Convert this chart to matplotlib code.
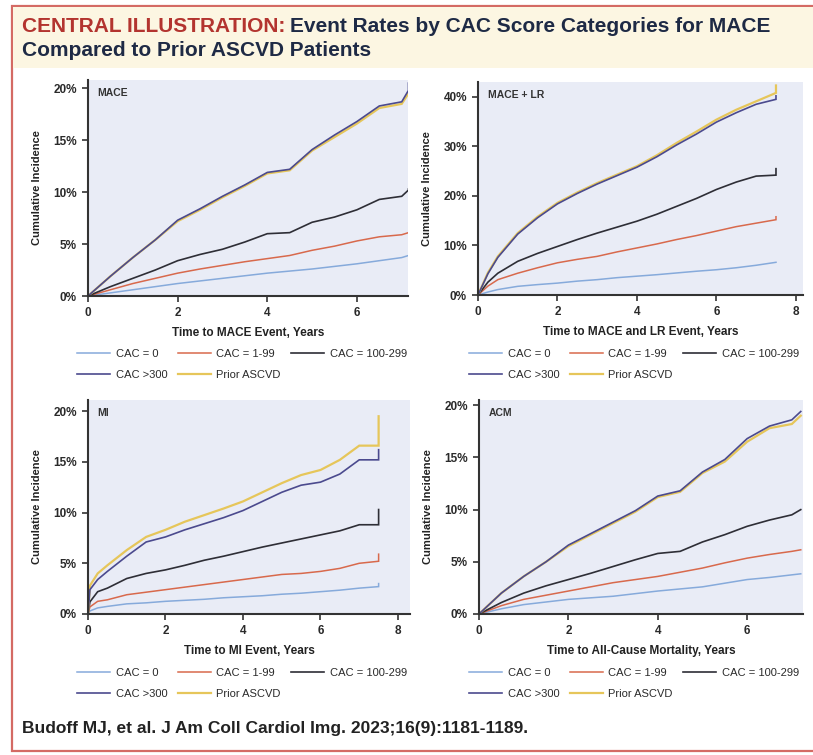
import numpy as np
import matplotlib
matplotlib.use("Agg")
import matplotlib.pyplot as plt
from matplotlib.patches import Rectangle
from matplotlib.ticker import FuncFormatter

plt.rcParams['font.family'] = ['Liberation Sans', 'DejaVu Sans']

# ---------------- data (cumulative incidence, %) ----------------
series_names = ["CAC = 0", "CAC = 1-99", "CAC = 100-299", "CAC >300", "Prior ASCVD"]
series_colors = ["#86aadb", "#d8694c", "#2e2e36", "#4b4a8e", "#e6c65a"]

# MACE
mace_t = [0, 0.5, 1, 1.5, 2, 2.5, 3, 3.5, 4, 4.5, 5, 5.5, 6, 6.5, 7, 7.15, 7.15]
mace_cac0 = [0, 0.3, 0.6, 0.9, 1.2, 1.45, 1.7, 1.95, 2.2, 2.4, 2.6, 2.85, 3.1, 3.4, 3.7, 3.9, 3.9]
mace_cac1_99 = [0, 0.6, 1.2, 1.7, 2.2, 2.6, 2.95, 3.3, 3.6, 3.9, 4.4, 4.8, 5.3, 5.7, 5.9, 6.1, 6.1]
mace_cac100_299 = [0, 0.9, 1.7, 2.5, 3.4, 4.0, 4.5, 5.2, 6.0, 6.1, 7.1, 7.6, 8.3, 9.3, 9.6, 10.2, 10.3]
mace_cac300 = [0, 1.9, 3.7, 5.4, 7.3, 8.4, 9.6, 10.7, 11.9, 12.2, 14.1, 15.5, 16.8, 18.3, 18.7, 19.8, 20.5]
mace_prior = [0, 1.9, 3.7, 5.4, 7.2, 8.3, 9.5, 10.6, 11.8, 12.1, 14.0, 15.3, 16.6, 18.1, 18.5, 19.5, 19.5]

# MACE + LR
lr_t = [0, 0.25, 0.5, 1, 1.5, 2, 2.5, 3, 3.5, 4, 4.5, 5, 5.5, 6, 6.5, 7, 7.5, 7.5]
lr_cac0 = [0, 0.6, 1.1, 1.75, 2.1, 2.4, 2.8, 3.1, 3.5, 3.8, 4.1, 4.45, 4.8, 5.1, 5.5, 6.0, 6.6, 6.6]
lr_cac1_99 = [0, 1.8, 3.1, 4.4, 5.5, 6.5, 7.2, 7.8, 8.7, 9.5, 10.3, 11.2, 12.0, 12.9, 13.8, 14.5, 15.2, 15.8]
lr_cac100_299 = [0, 2.6, 4.4, 6.8, 8.4, 9.8, 11.2, 12.5, 13.7, 14.9, 16.3, 17.9, 19.5, 21.3, 22.8, 24.0, 24.2, 25.5]
lr_cac300 = [0, 4.3, 7.6, 12.3, 15.6, 18.4, 20.5, 22.4, 24.1, 25.8, 27.9, 30.3, 32.5, 34.9, 36.8, 38.5, 39.5, 40.2]
lr_prior = [0, 4.5, 7.8, 12.5, 15.8, 18.6, 20.7, 22.6, 24.3, 26.0, 28.2, 30.7, 33.0, 35.4, 37.4, 39.1, 40.8, 42.3]

# MI
mi_t = [0, 0.05, 0.25, 0.5, 1, 1.5, 2, 2.5, 3, 3.5, 4, 4.5, 5, 5.5, 6, 6.5, 7, 7.5, 7.5]
mi_cac0 = [0, 0.3, 0.6, 0.75, 1.0, 1.1, 1.25, 1.35, 1.45, 1.6, 1.7, 1.8, 1.95, 2.05, 2.2, 2.35, 2.55, 2.7, 3.0]
mi_cac1_99 = [0, 0.7, 1.25, 1.4, 1.9, 2.15, 2.4, 2.65, 2.9, 3.15, 3.4, 3.65, 3.9, 4.0, 4.2, 4.5, 5.0, 5.2, 5.9]
mi_cac100_299 = [0, 1.2, 2.2, 2.55, 3.5, 4.0, 4.35, 4.8, 5.3, 5.7, 6.15, 6.6, 7.0, 7.4, 7.8, 8.2, 8.8, 8.8, 10.3]
mi_cac300 = [0, 2.4, 3.4, 4.2, 5.7, 7.1, 7.6, 8.3, 8.9, 9.5, 10.2, 11.1, 12.0, 12.7, 13.0, 13.8, 15.2, 15.2, 16.2]
mi_prior = [0, 2.8, 4.0, 4.8, 6.3, 7.6, 8.3, 9.1, 9.75, 10.4, 11.1, 12.0, 12.9, 13.7, 14.2, 15.2, 16.6, 16.6, 19.5]

# ACM
acm_t = [0, 0.5, 1, 1.5, 2, 2.5, 3, 3.5, 4, 4.5, 5, 5.5, 6, 6.5, 7, 7.2]
acm_cac0 = [0, 0.5, 0.9, 1.15, 1.4, 1.55, 1.7, 1.95, 2.2, 2.4, 2.6, 2.95, 3.3, 3.5, 3.75, 3.85]
acm_cac1_99 = [0, 0.8, 1.4, 1.8, 2.2, 2.6, 3.0, 3.3, 3.6, 4.0, 4.4, 4.9, 5.35, 5.7, 6.0, 6.15]
acm_cac100_299 = [0, 1.1, 2.0, 2.7, 3.3, 3.9, 4.55, 5.2, 5.8, 6.0, 6.9, 7.6, 8.4, 9.0, 9.5, 10.0]
acm_cac300 = [0, 2.0, 3.6, 5.0, 6.6, 7.7, 8.8, 9.9, 11.3, 11.8, 13.6, 14.8, 16.8, 18.0, 18.6, 19.4]
acm_prior = [0, 2.0, 3.6, 5.0, 6.5, 7.6, 8.7, 9.8, 11.2, 11.7, 13.5, 14.6, 16.5, 17.8, 18.2, 19.0]

panels = [
    dict(label="MACE", xlabel="Time to MACE Event, Years", t=mace_t,
         ys=[mace_cac0, mace_cac1_99, mace_cac100_299, mace_cac300, mace_prior],
         xticks=[0, 2, 4, 6], yticks=[0, 5, 10, 15, 20],
         xlim=7.14, ylim=20.8, box=(88, 80, 408, 296), leg=(77, 349)),
    dict(label="MACE + LR", xlabel="Time to MACE and LR Event, Years", t=lr_t,
         ys=[lr_cac0, lr_cac1_99, lr_cac100_299, lr_cac300, lr_prior],
         xticks=[0, 2, 4, 6, 8], yticks=[0, 10, 20, 30, 40],
         xlim=8.18, ylim=43.0, box=(478, 82, 803, 295), leg=(469, 349)),
    dict(label="MI", xlabel="Time to MI Event, Years", t=mi_t,
         ys=[mi_cac0, mi_cac1_99, mi_cac100_299, mi_cac300, mi_prior],
         xticks=[0, 2, 4, 6, 8], yticks=[0, 5, 10, 15, 20],
         xlim=8.31, ylim=21.1, box=(88, 400, 410, 614), leg=(77, 668)),
    dict(label="ACM", xlabel="Time to All-Cause Mortality, Years", t=acm_t,
         ys=[acm_cac0, acm_cac1_99, acm_cac100_299, acm_cac300, acm_prior],
         xticks=[0, 2, 4, 6], yticks=[0, 5, 10, 15, 20],
         xlim=7.25, ylim=20.5, box=(479, 400, 803, 614), leg=(469, 668)),
]

W, H = 813, 755
fig = plt.figure(figsize=(W / 100, H / 100), dpi=100)

# frame + header
fig.patches.append(Rectangle((12 / W, 1 - 751 / H), 1.2, (751 - 6) / H, transform=fig.transFigure,
                             facecolor="white", edgecolor="#d46a64", lw=1.6, zorder=-2))
fig.patches.append(Rectangle((13 / W, 1 - 68 / H), 1.2, 61 / H, transform=fig.transFigure,
                             facecolor="#fcf6e2", edgecolor="none", zorder=-1))

t1 = fig.text(22 / W, 1 - 27 / H, "CENTRAL ILLUSTRATION:", color="#b3342f",
              fontsize=15, fontweight="bold", va="center", ha="left")
fig.canvas.draw()
r = fig.canvas.get_renderer()
bb = t1.get_window_extent(r)
fig.text((bb.x1 + 5) / W, 1 - 27 / H, "Event Rates by CAC Score Categories for MACE",
         color="#1e2a45", fontsize=15, fontweight="bold", va="center", ha="left")
fig.text(22 / W, 1 - 50 / H, "Compared to Prior ASCVD Patients",
         color="#1e2a45", fontsize=15, fontweight="bold", va="center", ha="left")

fig.text(22 / W, 1 - 728 / H, "Budoff MJ, et al. J Am Coll Cardiol Img. 2023;16(9):1181-1189.",
         color="#222222", fontsize=12.5, fontweight="bold", va="center", ha="left")

pct = FuncFormatter(lambda v, p: f"{v:.0f}%")
draw_order = [0, 1, 2, 4, 3]
widths = [1.1, 1.1, 1.2, 1.2, 1.6]

for p in panels:
    x0, y0, x1, y1 = p["box"]
    ax = fig.add_axes([x0 / W, 1 - y1 / H, (x1 - x0) / W, (y1 - y0) / H])
    ax.set_facecolor("#e9ecf6")
    lines = {}
    for i in draw_order:
        ln, = ax.plot(p["t"], p["ys"][i], color=series_colors[i], lw=widths[i],
                      label=series_names[i], solid_joinstyle="miter")
        lines[i] = ln
    ax.set_xlim(0, p["xlim"])
    ax.set_ylim(0, p["ylim"])
    ax.set_xticks(p["xticks"])
    ax.set_yticks(p["yticks"])
    ax.yaxis.set_major_formatter(pct)
    for s in ["top", "right"]:
        ax.spines[s].set_visible(False)
    for s in ["left", "bottom"]:
        ax.spines[s].set_color("#333333")
        ax.spines[s].set_linewidth(1.5)
    ax.tick_params(direction="out", length=4, width=1.2, color="#333333",
                   labelsize=8.5, labelcolor="#2a2a2a", pad=4)
    for lab in ax.get_xticklabels() + ax.get_yticklabels():
        lab.set_fontweight("bold")
    ax.set_xlabel(p["xlabel"], fontsize=8.5, fontweight="bold", color="#222222", labelpad=6)
    ax.set_ylabel("Cumulative Incidence", fontsize=8, fontweight="bold", color="#222222", labelpad=8)
    ax.text(0.03, 0.94, p["label"], transform=ax.transAxes, fontsize=7.5,
            fontweight="bold", color="#333333", va="center", ha="left")

    # legend laid out row by row: matplotlib fills columns first
    order = [0, 3, 1, 4, 2]
    lx, ly = p["leg"]
    ax.legend([lines[i] for i in order], [series_names[i] for i in order],
              ncol=3, loc="upper left", bbox_to_anchor=(lx / W, 1 - ly / H),
              bbox_transform=fig.transFigure, frameon=False, fontsize=8,
              handlelength=3.0, handletextpad=0.5, columnspacing=0.9,
              labelspacing=1.0, borderpad=0, borderaxespad=0,
              labelcolor="#2a2a2a")

fig.savefig("out.png", dpi=100)
